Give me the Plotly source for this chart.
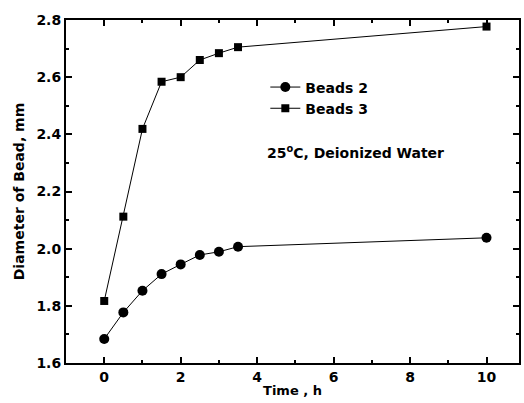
import plotly.graph_objects as go

time_h = [0, 0.5, 1.0, 1.5, 2.0, 2.5, 3.0, 3.5, 10]
beads2 = [1.684, 1.777, 1.853, 1.911, 1.945, 1.978, 1.989, 2.007, 2.038]
beads3 = [1.817, 2.112, 2.419, 2.584, 2.600, 2.660, 2.684, 2.705, 2.777]
series_names = ["Beads 2", "Beads 3"]
x_ticks = [0, 2, 4, 6, 8, 10]
y_ticks = [1.6, 1.8, 2.0, 2.2, 2.4, 2.6, 2.8]

FONT = "DejaVu Sans"

fig = go.Figure()
fig.add_trace(go.Scatter(x=time_h, y=beads2, name=series_names[0], mode="lines+markers",
                         line=dict(color="black", width=1),
                         marker=dict(symbol="circle", size=10, color="black")))
fig.add_trace(go.Scatter(x=time_h, y=beads3, name=series_names[1], mode="lines+markers",
                         line=dict(color="black", width=1),
                         marker=dict(symbol="square", size=8, color="black")))

axis_common = dict(showline=True, linecolor="black", linewidth=2, mirror="ticks",
                   ticks="inside", ticklen=6, tickwidth=1.5, tickcolor="black",
                   showgrid=False, zeroline=False,
                   tickfont=dict(family=FONT, size=14, color="black", weight="bold"))

fig.update_xaxes(range=[-1, 10.85], tickvals=x_ticks,
                 minor=dict(ticks="inside", dtick=1, tick0=0, ticklen=3, tickcolor="black"),
                 title=dict(text="Time , h", standoff=2,
                            font=dict(family=FONT, size=13, color="black", weight="bold")),
                 **axis_common)
fig.update_yaxes(range=[1.6, 2.8], tickvals=y_ticks, tickformat=".1f",
                 minor=dict(ticks="inside", dtick=0.1, tick0=1.6, ticklen=3, tickcolor="black"),
                 title=dict(text="Diameter of Bead, mm", standoff=8,
                            font=dict(family=FONT, size=14, color="black", weight="bold")),
                 **axis_common)

fig.add_annotation(x=0.44, y=0.615, xref="paper", yref="paper", xanchor="left", yanchor="middle",
                   text="25<sup>o</sup>C, Deionized Water", showarrow=False,
                   font=dict(family=FONT, size=14, color="black", weight="bold"))

fig.update_layout(width=524, height=403,
                  margin=dict(l=66, r=3, t=20, b=40),
                  paper_bgcolor="white", plot_bgcolor="white",
                  showlegend=True,
                  legend=dict(x=0.44, y=0.85, xanchor="left", yanchor="top",
                              bgcolor="rgba(0,0,0,0)", tracegroupgap=0, itemwidth=30,
                              font=dict(family=FONT, size=14, color="black", weight="bold")))

fig.write_html("out.html")
